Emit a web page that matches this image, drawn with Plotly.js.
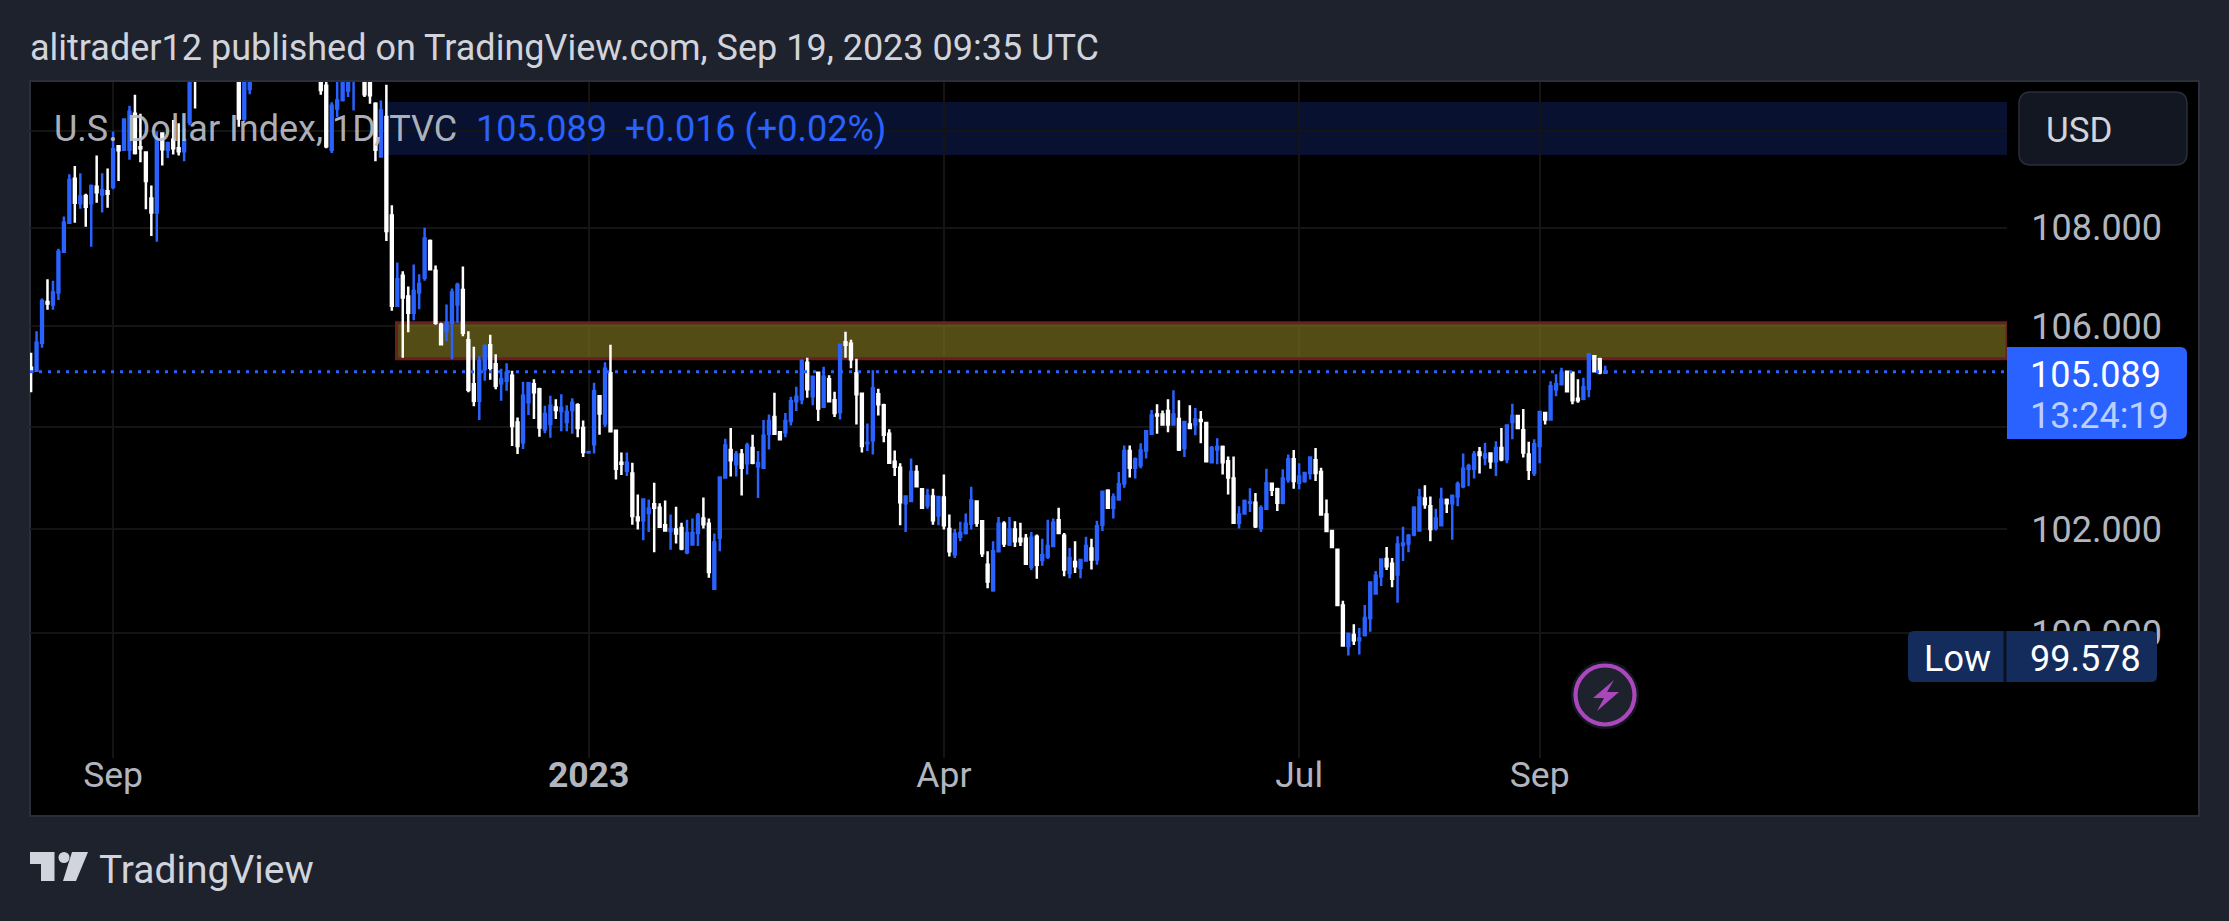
<!DOCTYPE html>
<html>
<head>
<meta charset="utf-8">
<script src="https://cdn.plot.ly/plotly-3.0.1.min.js"></script>
<style>html,body{margin:0;padding:0;background:#1e222d}#chart{width:2229px;height:921px}</style>
</head>
<body>
<div id="chart"></div>
<script>
var opens = [
105.17,105.11,105.67,106.49,106.44,106.68,107.51,108.10,109.01,108.50,
108.65,108.50,108.84,108.68,108.75,108.84,109.68,109.61,109.61,110.36,
109.66,109.55,108.60,108.31,109.95,109.61,109.82,109.64,109.58,110.19,
111.9,111.3,113.2,114.1,114.1,112.6,112.2,112.1,111.5,110.26,
110.88,112.2,112.8,113.1,113.2,113.3,112.4,113.3,112.0,112.1,
112.9,112.8,112.0,111.9,110.95,109.61,110.47,110.65,110.85,111.3,
111.8,112.0,112.0,110.57,109.47,110.29,108.25,106.41,107.02,106.60,
106.27,106.68,106.98,107.73,107.12,106.03,105.90,106.07,106.44,106.73,
105.72,104.84,104.51,105.14,105.62,105.24,104.86,104.91,105.01,104.08,
103.69,104.48,104.84,104.74,103.95,104.05,104.38,104.31,104.09,104.33,
104.42,103.97,103.49,103.65,104.60,104.06,105.06,103.92,103.29,103.13,
103.08,102.22,102.17,102.31,102.48,102.41,102.07,101.96,101.99,102.02,
101.55,101.70,101.92,102.20,102.10,100.85,101.83,103.00,103.54,103.26,
103.45,103.28,103.58,103.22,103.19,103.86,104.19,103.89,103.89,104.11,
104.50,104.54,105.27,104.60,105.07,104.39,104.94,104.52,104.29,105.68,
105.65,105.06,104.65,103.67,103.73,104.64,104.42,103.86,103.31,103.19,
102.50,102.54,103.11,102.77,102.46,102.63,102.26,102.61,102.00,101.51,
101.85,101.92,102.10,102.53,102.15,101.31,100.82,101.57,102.10,101.70,
101.99,101.81,101.81,101.27,101.85,101.40,101.47,101.67,102.17,101.87,
101.15,101.36,101.25,101.39,101.62,101.41,102.08,102.74,102.41,102.57,
102.89,103.52,103.19,103.24,103.53,103.86,104.24,104.24,104.31,104.04,
104.15,103.58,104.04,104.04,104.13,104.07,103.30,103.55,103.60,103.32,
102.98,102.12,102.30,102.51,102.51,102.02,102.39,102.88,102.77,102.51,
102.96,103.36,102.90,102.93,103.09,103.34,103.11,102.28,101.96,101.60,
100.53,99.76,99.97,99.87,99.97,100.29,100.76,101.09,101.42,101.33,
101.12,101.69,101.72,101.89,101.97,102.59,102.44,102.02,102.07,102.56,
102.50,102.63,102.83,103.17,103.17,103.49,103.39,103.47,103.32,103.58,
103.36,104.09,104.21,103.93,103.45,103.09,103.62,104.27,104.14,104.74,
104.84,105.09,105.07,104.55,104.55,104.75,105.40,105.34,105.07];
var highs = [
105.47,105.90,106.56,106.95,106.92,107.57,108.23,109.10,109.27,109.12,
108.70,108.89,109.49,109.12,109.22,109.99,109.71,110.26,110.53,110.76,
110.36,109.55,108.87,109.99,109.97,109.75,110.23,110.16,110.05,112.0,
112.3,113.3,114.7,114.6,114.7,113.0,112.7,112.5,111.9,111.4,
112.4,112.9,113.3,113.4,113.5,113.9,113.4,113.4,112.5,113.1,
113.2,113.9,112.3,112.1,111.5,110.60,111.2,111.9,112.0,112.1,
112.9,112.6,112.4,110.60,110.64,110.97,108.46,107.29,107.11,106.80,
107.25,107.05,108.00,107.76,107.23,106.07,106.44,106.76,106.88,107.21,
105.90,105.59,105.40,105.64,105.83,105.44,105.15,105.26,105.11,104.18,
104.89,104.86,104.94,104.77,104.41,104.61,104.54,104.64,104.42,104.56,
104.46,104.12,103.52,104.87,104.62,105.28,105.63,103.93,103.49,103.49,
103.29,102.67,102.57,102.57,102.90,102.50,102.55,102.28,102.43,102.12,
102.18,102.20,102.31,102.61,102.20,101.91,103.02,103.76,103.97,103.52,
103.56,103.68,103.84,103.52,104.13,104.24,104.67,103.91,104.27,104.59,
104.79,105.34,105.37,105.00,105.08,105.19,105.02,104.69,105.65,105.89,
105.73,105.35,104.65,104.06,105.12,104.75,104.45,103.95,103.53,103.28,
102.64,103.37,103.24,102.77,102.78,102.78,102.64,103.06,102.28,102.00,
102.14,102.30,102.82,102.54,102.16,101.57,101.76,102.23,102.15,102.23,
102.15,102.12,101.90,101.94,101.89,101.81,102.18,102.20,102.41,101.92,
101.63,101.76,101.42,101.85,101.81,102.16,102.74,102.77,102.69,103.11,
103.63,103.63,103.39,103.67,103.93,104.33,104.44,104.32,104.54,104.72,
104.52,104.11,104.42,104.37,104.31,104.07,103.62,103.77,103.63,103.41,
103.41,102.44,102.57,102.79,102.70,102.46,103.17,102.89,102.80,103.16,
103.45,103.54,103.28,103.11,103.39,103.58,103.19,102.57,101.96,101.62,
100.62,100.00,100.17,100.10,100.54,100.98,101.19,101.42,101.65,101.44,
101.86,102.04,101.90,102.44,102.78,102.85,102.63,102.39,102.80,102.59,
102.67,102.92,103.47,103.27,103.52,103.60,103.68,103.49,103.71,103.97,
104.02,104.45,104.22,104.35,103.70,103.75,104.29,104.27,104.90,105.04,
105.17,105.10,105.08,104.94,104.97,105.46,105.42,105.37,105.21];
var lows = [
104.68,105.11,105.57,106.33,106.33,106.53,107.49,108.10,108.10,108.39,
108.02,107.61,108.51,108.31,108.41,108.79,108.96,109.61,109.40,109.51,
109.35,108.38,107.83,107.71,109.28,109.44,109.51,109.49,109.37,110.12,
110.47,111.2,113.0,113.7,112.5,111.8,111.6,111.4,110.09,110.19,
110.77,111.9,112.6,112.8,112.9,112.0,112.3,111.9,111.6,112.0,
112.4,111.7,111.4,110.76,109.64,109.54,110.29,110.62,110.71,110.43,
111.5,110.71,110.57,109.37,109.47,107.73,106.31,106.41,105.37,105.88,
106.12,106.34,106.92,107.14,106.03,105.62,105.70,105.34,106.07,105.80,
104.68,104.40,104.13,104.91,104.93,104.74,104.51,104.71,103.62,103.46,
103.56,104.23,104.15,103.80,103.87,103.78,104.15,103.91,103.91,103.86,
103.79,103.40,103.48,103.47,103.84,103.99,103.89,102.96,103.05,103.03,
102.08,101.99,101.78,101.94,101.55,102.02,101.96,101.60,101.72,101.59,
101.51,101.70,101.67,102.01,101.06,100.83,101.57,102.98,103.02,103.02,
102.65,103.06,103.26,102.60,103.18,103.55,103.84,103.75,103.79,104.02,
104.31,104.44,104.57,104.42,104.11,104.37,104.50,104.19,104.14,105.37,
105.16,104.04,103.49,103.52,103.45,104.22,103.69,103.28,103.03,102.07,
101.94,102.52,102.83,102.40,102.39,102.08,102.07,101.99,101.47,101.44,
101.76,101.89,101.99,102.04,101.46,100.86,100.79,101.55,101.65,101.67,
101.65,101.67,101.31,101.21,101.04,101.29,101.42,101.65,101.90,101.09,
101.05,101.15,101.05,101.37,101.22,101.31,101.96,102.39,102.20,102.57,
102.80,103.00,102.98,103.18,103.37,103.84,103.86,104.04,103.89,104.02,
103.52,103.40,103.95,103.83,103.67,103.32,103.29,103.26,103.06,102.67,
102.10,102.01,102.28,102.33,102.02,101.94,102.38,102.64,102.35,102.48,
102.90,102.78,102.77,102.90,102.96,102.93,102.26,101.96,101.63,100.53,
99.76,99.578,99.78,99.60,99.94,100.03,100.74,100.90,101.21,100.88,
100.58,101.38,101.55,101.86,101.96,102.39,101.76,101.97,102.05,102.31,
101.79,102.44,102.79,102.83,102.98,103.08,103.24,103.17,103.03,103.32,
103.28,103.75,103.96,103.39,102.95,103.03,103.28,104.04,104.13,104.60,
104.84,104.68,104.44,104.47,104.52,104.58,105.09,105.04,105.05];
var closes = [
105.09,105.67,106.51,106.46,106.68,107.51,108.10,108.98,108.51,108.64,
108.43,108.86,108.73,108.77,108.70,109.62,109.60,110.24,110.40,109.54,
109.64,108.96,108.31,109.82,109.62,109.75,109.64,109.58,109.82,111.8,
111.3,113.2,114.1,114.1,112.6,112.2,112.1,111.6,110.26,111.2,
112.2,112.8,113.1,113.2,113.3,112.4,113.3,112.0,112.1,112.9,
112.8,112.0,111.9,110.86,109.68,110.53,110.64,111.5,111.7,111.8,
112.5,110.77,110.75,109.61,110.43,107.93,106.41,106.95,106.58,106.27,
106.71,106.85,107.78,107.15,106.07,105.64,106.07,106.68,106.83,105.87,
104.73,104.51,105.30,105.60,105.17,104.81,104.94,105.07,104.01,103.62,
104.61,104.86,104.68,103.98,104.25,104.41,104.33,104.37,104.29,104.47,
103.97,103.50,103.50,104.70,104.26,105.15,103.91,103.17,103.27,103.29,
102.25,102.17,102.57,102.39,102.41,102.04,101.97,102.00,101.91,101.62,
101.92,101.92,102.26,102.09,101.17,101.74,103.00,103.63,103.34,103.45,
103.19,103.63,103.29,103.28,103.82,104.11,103.86,103.75,104.11,104.50,
104.59,105.30,104.74,104.99,104.36,104.99,104.50,104.27,105.63,105.63,
105.34,104.64,103.62,103.68,104.76,104.44,103.84,103.29,103.21,102.52,
102.63,103.11,102.83,102.41,102.64,102.17,102.62,102.07,101.57,101.90,
101.92,102.10,102.55,102.12,101.53,100.99,101.57,102.10,101.72,101.99,
101.76,101.76,101.33,101.83,101.31,101.49,101.67,102.12,101.92,101.22,
101.44,101.28,101.40,101.67,101.41,102.05,102.72,102.41,102.61,102.87,
103.52,103.19,103.36,103.53,103.91,104.22,104.22,104.04,104.04,104.24,
103.55,104.09,103.97,104.14,104.11,103.32,103.58,103.60,103.30,103.00,
102.12,102.28,102.54,102.52,102.05,102.40,102.89,102.76,102.51,102.98,
103.36,102.93,103.02,103.09,103.39,103.09,102.28,101.96,101.65,100.54,
99.77,99.99,99.87,99.90,100.29,100.97,101.10,101.41,101.28,101.04,
101.70,101.72,101.87,102.41,102.61,102.48,102.00,102.20,102.57,102.50,
102.64,102.87,103.17,103.22,103.45,103.44,103.45,103.32,103.58,103.36,
104.02,104.21,103.97,103.49,103.15,103.65,104.29,104.14,104.80,104.84,
105.07,104.70,104.52,104.52,104.78,105.44,105.10,105.073,105.089];

// Calendar of the bars: every weekday from the first visible session.
var firstSession = '2022-08-11';
var sessions = [];
(function () {
  var d = new Date(firstSession + 'T00:00:00Z');
  while (sessions.length < closes.length) {
    var w = d.getUTCDay();
    if (w !== 0 && w !== 6) sessions.push(d.toISOString().slice(0, 10));
    d.setUTCDate(d.getUTCDate() + 1);
  }
})();

var monthTickDates = ['2022-09-01', '2023-01-02', '2023-04-03', '2023-07-03', '2023-09-01'];
var monthTickLabels = ['Sep', '<b>2023</b>', 'Apr', 'Jul', 'Sep'];
var priceTickValues = [100, 102, 104, 106, 108, 110];
var priceTickLabels = ['100.000', '102.000', '104.000', '106.000', '108.000', '110.000'];

var lastPrice = 105.089;
var zoneLow = 105.35, zoneHigh = 106.07;

var headerText = 'alitrader12 published on TradingView.com, Sep 19, 2023 09:35 UTC';
var symbolText = 'U.S. Dollar Index, 1D, TVC';
var quoteText = '105.089  +0.016 (+0.02%)';
var currencyText = 'USD';
var lastPriceText = '105.089';
var countdownText = '13:24:19';
var lowLabelText = 'Low';
var lowValueText = '99.578';
var brandText = 'TradingView';

var BG = '#1e222d', FRAME = '#2a2e39', GRID = '#141414', BLUE = '#2962ff', WHITE = '#ffffff', TXT = '#b2b5be';

var paneL = 30, paneR = 2007, paneT = 82, paneB = 758;
function px(x) { return (x - paneL) / (paneR - paneL); }
function py(y) { return (paneB - y) / (paneB - paneT); }
function roundRect(x0, y0, x1, y1, rl, rr) {
  return 'M' + px(x0 + rl) + ',' + py(y0) + ' L' + px(x1 - rr) + ',' + py(y0) +
    ' Q' + px(x1) + ',' + py(y0) + ' ' + px(x1) + ',' + py(y0 + rr) +
    ' L' + px(x1) + ',' + py(y1 - rr) +
    ' Q' + px(x1) + ',' + py(y1) + ' ' + px(x1 - rr) + ',' + py(y1) +
    ' L' + px(x0 + rl) + ',' + py(y1) +
    ' Q' + px(x0) + ',' + py(y1) + ' ' + px(x0) + ',' + py(y1 - rl) +
    ' L' + px(x0) + ',' + py(y0 + rl) +
    ' Q' + px(x0) + ',' + py(y0) + ' ' + px(x0 + rl) + ',' + py(y0) + ' Z';
}
function poly(points) {
  return points.map(function (p, i) { return (i ? 'L' : 'M') + px(p[0]) + ',' + py(p[1]); }).join(' ') + ' Z';
}
function paperRect(x0, y0, x1, y1, fill, line, lw, layer) {
  return { type: 'rect', xref: 'paper', yref: 'paper', x0: px(x0), x1: px(x1), y0: py(y0), y1: py(y1),
    fillcolor: fill, line: { color: line || 'rgba(0,0,0,0)', width: lw || 0 }, layer: layer || 'above' };
}
function pathShape(d, fill, line, lw) {
  return { type: 'path', xref: 'paper', yref: 'paper', path: d, fillcolor: fill,
    line: { color: line || 'rgba(0,0,0,0)', width: lw || 0 }, layer: 'above' };
}
function circleShape(cx, cy, r, fill, line, lw) {
  return { type: 'circle', xref: 'paper', yref: 'paper', x0: px(cx - r), x1: px(cx + r), y0: py(cy + r), y1: py(cy - r),
    fillcolor: fill, line: { color: line || 'rgba(0,0,0,0)', width: lw || 0 }, layer: 'above' };
}
function label(text, x, y, size, color, anchor) {
  return { text: text, xref: 'paper', yref: 'paper', x: px(x), y: py(y), xanchor: anchor || 'left', yanchor: 'middle',
    showarrow: false, borderpad: 0, borderwidth: 0, font: { family: 'Roboto', size: size, color: color } };
}

var xStart = -0.2, xEnd = 361.5, zoneStartBar = 66.85;

var shapes = [
  // outer black chart frame
  paperRect(paneL, paneT - 1, 2199, 816, '#000000', FRAME, 2, 'below'),
  // legend strip
  paperRect(387.5, 102, paneR, 155, 'rgba(41,98,255,0.19)', null, 0, 'below'),
  // resistance zone
  { type: 'rect', xref: 'x', yref: 'y', x0: zoneStartBar, x1: xEnd, y0: zoneLow, y1: zoneHigh,
    fillcolor: 'rgba(118,108,30,0.7)', line: { color: '#6a2020', width: 3 }, layer: 'between' },
  // last price line
  { type: 'line', xref: 'paper', yref: 'y', x0: 0, x1: 1, y0: lastPrice, y1: lastPrice,
    line: { color: BLUE, width: 3, dash: '3px,6px' }, layer: 'above' },
  // USD button
  pathShape(roundRect(2019, 92, 2187, 165, 12, 12), '#131722', '#2a2e39', 1.5),
  // last price tag
  pathShape(roundRect(2007, 347, 2187, 439, 0, 7), BLUE),
  // low tag
  pathShape(roundRect(1908, 631, 2157, 682, 6, 6), '#132c5c'),
  paperRect(2003.5, 631, 2006.5, 682, '#0a1020'),
  // lightning badge
  circleShape(1605, 695, 34, '#131722'),
  circleShape(1605, 695, 29.5, '#1e222d', '#ab47bc', 4.2),
  pathShape(poly([[1614, 680], [1593, 698], [1604, 698], [1597, 711], [1619, 692], [1607, 692]]), '#ab47bc'),
  // TradingView logo
  pathShape(poly([[30, 852], [54.5, 852], [54.5, 881], [41, 881], [41, 864], [30, 864]]), '#d1d4dc'),
  circleShape(64, 857.5, 5.5, '#d1d4dc'),
  pathShape(poly([[72, 852], [88, 852], [76, 881], [63, 881]]), '#d1d4dc')
];

var annotations = [
  label(headerText, 30, 48, 36, '#d1d4dc'),
  label(symbolText, 54, 129, 36, 'rgba(190,193,202,0.92)'),
  label(quoteText, 476, 129, 36, '#2962ff'),
  label(currencyText, 2046, 130, 35, '#d1d4dc'),
  label(lastPriceText, 2030, 375, 36, '#ffffff'),
  label(countdownText, 2030, 416, 36, '#bcd0ff'),
  label(lowLabelText, 1957, 659, 36, '#ffffff', 'center'),
  label(lowValueText, 2085, 659, 36, '#ffffff', 'center'),
  label(brandText, 99, 870, 39, '#d1d4dc')
];

var trace = {
  type: 'candlestick',
  x: sessions, open: opens, high: highs, low: lows, close: closes,
  increasing: { line: { color: BLUE, width: 2.5 }, fillcolor: BLUE },
  decreasing: { line: { color: WHITE, width: 2.5 }, fillcolor: WHITE },
  whiskerwidth: 0,
  hoverinfo: 'skip'
};

var pricePerDecade = 12135, y100 = 633.3;
var layout = {
  width: 2229, height: 921,
  paper_bgcolor: BG, plot_bgcolor: '#000000',
  margin: { l: paneL, r: 2229 - paneR, t: paneT, b: 921 - paneB, pad: 0 },
  showlegend: false,
  boxgap: 0.52,
  font: { family: 'Roboto', color: TXT },
  xaxis: {
    type: 'category', rangeslider: { visible: false },
    range: [xStart, xEnd], autorange: false,
    tickmode: 'array', tickvals: monthTickDates, ticktext: monthTickLabels, tickangle: 0,
    showgrid: true, gridcolor: GRID, gridwidth: 2, zeroline: false, showline: false,
    ticks: '', ticklabelstandoff: -8,
    tickfont: { family: 'Roboto', size: 35.5, color: TXT }
  },
  yaxis: {
    type: 'log', side: 'right', autorange: false,
    range: [2 + (y100 - paneB) / pricePerDecade, 2 + (y100 - paneT) / pricePerDecade],
    tickmode: 'array', tickvals: priceTickValues, ticktext: priceTickLabels,
    showgrid: true, gridcolor: GRID, gridwidth: 2, zeroline: false, showline: false,
    ticks: 'outside', ticklen: 16, tickcolor: 'rgba(0,0,0,0)',
    tickfont: { family: 'Roboto', size: 36, color: TXT }
  },
  shapes: shapes,
  annotations: annotations
};

Plotly.newPlot('chart', [trace], layout, { staticPlot: true, displayModeBar: false });
</script>
</body>
</html>
